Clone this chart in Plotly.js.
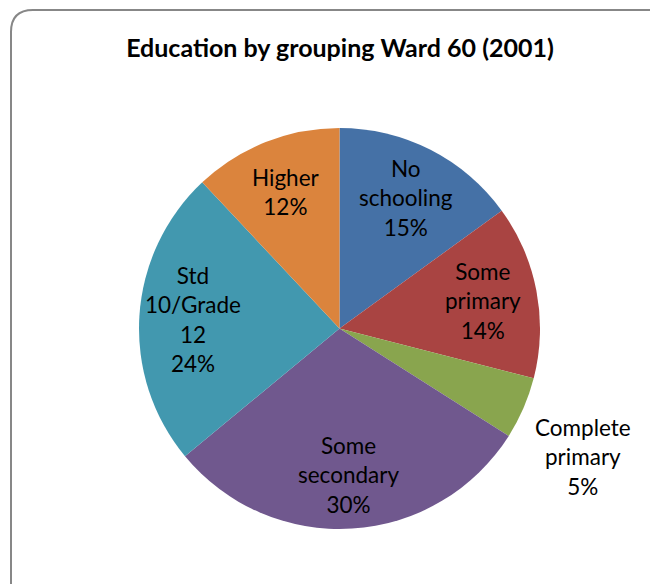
<!DOCTYPE html>
<html>
<head>
<meta charset="utf-8">
<script src="https://cdn.plot.ly/plotly-3.0.1.min.js"></script>
<style>
html,body{margin:0;padding:0;background:#fff;}
#chart{width:650px;height:584px;}
</style>
</head>
<body>
<div id="chart"></div>
<script>
const categories = ["No schooling", "Some primary", "Complete primary", "Some secondary", "Std 10/Grade 12", "Higher"];
const displayLabels = ["No<br>schooling", "Some<br>primary", "Complete<br>primary", "Some<br>secondary", "Std<br>10/Grade<br>12", "Higher"];
const values = [15, 14, 5, 30, 24, 12];
const colors = ["#4571A6", "#A94442", "#89A54E", "#70588E", "#4298AF", "#DB843D"];
const labelPlacement = ["inside", "inside", "outside", "inside", "inside", "inside"];

const W = 650, H = 584;
// pie geometry (pixels)
const pieLeft = 139, pieRight = 540, pieTop = 128, pieBottom = 529;
const cx = (pieLeft + pieRight) / 2, cy = (pieTop + pieBottom) / 2;
const R = (pieRight - pieLeft) / 2;

const total = values.reduce((a, b) => a + b, 0);
const texts = displayLabels.map((l, i) => l + "<br>" + Math.round(values[i] / total * 100) + "%");

const trace = {
  type: "pie",
  labels: categories,
  values: values,
  textinfo: "none",
  sort: false,
  direction: "clockwise",
  rotation: 0,
  marker: {colors: colors, line: {width: 0}},
  showlegend: false,
  hoverinfo: "label+percent",
  domain: {x: [pieLeft / W, pieRight / W], y: [(H - pieBottom) / H, (H - pieTop) / H]}
};

const px = (x) => x / W, py = (y) => (H - y) / H;

// label annotations positioned at each slice's mid-angle
const annotations = [];
let cum = 0;
values.forEach((v, i) => {
  const mid = (cum + v / 2) / total * 2 * Math.PI;
  cum += v;
  const s = Math.sin(mid), c = Math.cos(mid);
  const inside = labelPlacement[i] === "inside";
  const d = inside ? 0.73 * R : 1.05 * R;
  annotations.push({
    xref: "paper", yref: "paper",
    x: px(cx + d * s), y: py(cy - d * c),
    xanchor: inside ? "center" : (s > 0 ? "left" : "right"),
    yanchor: inside ? "middle" : (c < 0 ? "top" : "bottom"),
    text: texts[i], showarrow: false, align: "center",
    font: {family: "Lato, sans-serif", size: 22.5, color: "#000"}
  });
});

const r = 22;
const borderPath =
  "M " + px(11) + "," + py(700) +
  " L " + px(11) + "," + py(10 + r) +
  " Q " + px(11) + "," + py(10) + " " + px(11 + r) + "," + py(10) +
  " L " + px(700) + "," + py(10);

const layout = {
  width: W, height: H,
  margin: {l: 0, r: 0, t: 0, b: 0},
  paper_bgcolor: "#fff",
  title: {
    text: "Education by grouping Ward 60 (2001)",
    font: {family: "Lato, sans-serif", size: 25, color: "#000", weight: "bold"},
    x: 340 / W, xanchor: "center", y: 1 - 48 / H, yanchor: "middle"
  },
  annotations: annotations,
  shapes: [{type: "path", xref: "paper", yref: "paper", path: borderPath, line: {color: "#878787", width: 2}}]
};

Plotly.newPlot("chart", [trace], layout, {displayModeBar: false, staticPlot: true});
</script>
</body>
</html>
